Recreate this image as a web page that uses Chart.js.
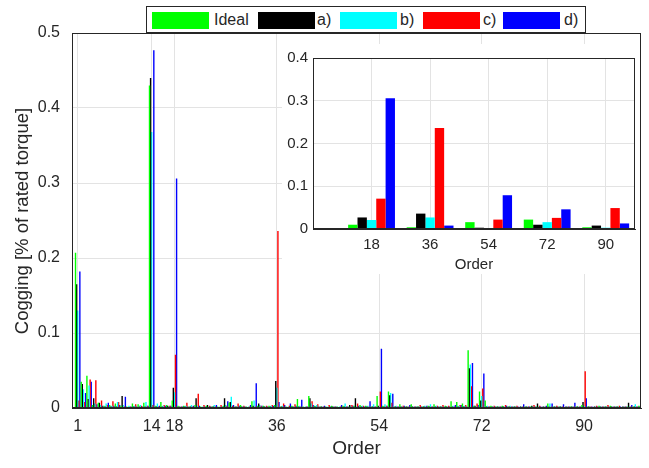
<!DOCTYPE html>
<html>
<head>
<meta charset="utf-8">
<script src="https://cdn.jsdelivr.net/npm/chart.js@4/dist/chart.umd.min.js"></script>
<style>
  html, body { margin: 0; padding: 0; background: #fff; }
  #wrap { position: relative; width: 649px; height: 468px; overflow: hidden; font-family: "Liberation Sans", Arial, sans-serif; }
  #main { position: absolute; left: 0; top: 0; }
  #inset { position: absolute; left: 282px; top: 44px; background: #fff; }
  #legend { position: absolute; left: 146px; top: 6px; width: 440px; height: 27px; border: 1px solid #262626; background: #fff; box-sizing: border-box; }
  .sw { position: absolute; top: 5px; width: 57px; height: 17px; }
  .lt { position: absolute; top: 3px; font-size: 16px; color: #262626; line-height: 20px; }
  #ytitle { position: absolute; left: 22px; top: 221px; width: 300px; margin-left: -150px; margin-top: -11px; height: 22px; line-height: 22px;
            text-align: center; font-size: 18.5px; color: #262626; transform: rotate(-90deg); white-space: nowrap; }
</style>
</head>
<body>
<div id="wrap">
  <canvas id="main" width="649" height="468"></canvas>
  <canvas id="inset" width="358" height="230"></canvas>
  <div id="legend"></div>
  <div id="ytitle"></div>
</div>
<script>
// ---------- data ----------
const seriesNames = ['Ideal', 'a)', 'b)', 'c)', 'd)'];
const seriesColors = ['#00ff00', '#000000', '#00ffff', '#ff0000', '#0000ff'];
const yTitle = 'Cogging [% of rated torque]';
const xTitle = 'Order';

const orders = [1,2,3,4,5,6,7,8,9,10,11,12,13,14,15,16,17,18,19,20,
  21,22,23,24,25,26,27,28,29,30,31,32,33,34,35,36,37,38,39,40,
  41,42,43,44,45,46,47,48,49,50,51,52,53,54,55,56,57,58,59,60,
  61,62,63,64,65,66,67,68,69,70,71,72,73,74,75,76,77,78,79,80,
  81,82,83,84,85,86,87,88,89,90,91,92,93,94,95,96,97,98,99,100];

const xTickValues = [1, 14, 18, 36, 54, 72, 90];
const yTickValues = [0, 0.1, 0.2, 0.3, 0.4, 0.5];

const ideal = [0.207,0.035,0.043,0.004,0.007,0.003,0.004,0.006,0.003,0.002,
  0.006,0.005,0.007,0.430,0.003,0.008,0.004,0.010,0.003,0.003,
  0.002,0.004,0.002,0.003,0.002,0.002,0.003,0.007,0.002,0.004,
  0.002,0.009,0.003,0.003,0.003,0.004,0.002,0.002,0.003,0.012,
  0.002,0.016,0.003,0.002,0.002,0.003,0.002,0.003,0.002,0.003,
  0.004,0.003,0.002,0.016,0.003,0.022,0.002,0.005,0.002,0.005,
  0.002,0.002,0.003,0.005,0.002,0.003,0.009,0.008,0.006,0.077,
  0.003,0.022,0.010,0.003,0.002,0.003,0.002,0.002,0.001,0.002,
  0.002,0.002,0.001,0.006,0.002,0.002,0.001,0.002,0.002,0.004,
  0.002,0.001,0.003,0.002,0.003,0.002,0.001,0.002,0.002,0.003];

const seriesA = [0.165,0.032,0.012,0.013,0.007,0.002,0.002,0.002,0.016,0.001,
  0.002,0.002,0.002,0.440,0.002,0.002,0.003,0.027,0.002,0.002,
  0.002,0.013,0.001,0.004,0.002,0.001,0.013,0.008,0.002,0.002,
  0.001,0.003,0.006,0.002,0.002,0.036,0.002,0.001,0.002,0.002,
  0.001,0.013,0.002,0.002,0.001,0.002,0.001,0.002,0.004,0.013,
  0.002,0.002,0.002,0.003,0.002,0.017,0.002,0.002,0.002,0.002,
  0.002,0.002,0.002,0.002,0.002,0.002,0.002,0.002,0.002,0.053,
  0.003,0.010,0.002,0.002,0.002,0.002,0.002,0.002,0.002,0.002,
  0.003,0.006,0.002,0.002,0.002,0.002,0.002,0.002,0.002,0.008,
  0.002,0.002,0.002,0.002,0.002,0.002,0.002,0.007,0.002,0.002];

const seriesB = [0.130,0.025,0.030,0.006,0.004,0.006,0.003,0.008,0.004,0.003,
  0.003,0.004,0.008,0.368,0.006,0.003,0.002,0.021,0.002,0.003,
  0.004,0.003,0.002,0.002,0.004,0.002,0.004,0.015,0.002,0.002,
  0.002,0.010,0.004,0.002,0.003,0.027,0.003,0.002,0.002,0.003,
  0.002,0.006,0.004,0.002,0.002,0.002,0.002,0.006,0.002,0.002,
  0.003,0.003,0.005,0.002,0.005,0.020,0.003,0.002,0.002,0.002,
  0.002,0.003,0.005,0.003,0.002,0.002,0.003,0.003,0.003,0.058,
  0.002,0.016,0.003,0.002,0.002,0.002,0.003,0.002,0.002,0.002,
  0.002,0.002,0.002,0.006,0.002,0.002,0.002,0.002,0.002,0.003,
  0.002,0.002,0.002,0.002,0.002,0.002,0.002,0.002,0.005,0.002];

const seriesC = [0.010,0.008,0.038,0.037,0.010,0.004,0.009,0.008,0.002,0.002,
  0.005,0.003,0.003,0.004,0.002,0.004,0.003,0.071,0.002,0.007,
  0.002,0.019,0.004,0.003,0.002,0.004,0.003,0.003,0.006,0.003,
  0.002,0.002,0.003,0.003,0.004,0.236,0.006,0.003,0.005,0.002,
  0.002,0.009,0.005,0.002,0.004,0.002,0.002,0.002,0.004,0.006,
  0.003,0.002,0.002,0.022,0.003,0.007,0.002,0.003,0.002,0.002,
  0.004,0.002,0.002,0.003,0.004,0.003,0.002,0.004,0.004,0.029,
  0.006,0.026,0.002,0.003,0.002,0.004,0.002,0.003,0.002,0.002,
  0.004,0.003,0.002,0.002,0.003,0.002,0.002,0.002,0.002,0.049,
  0.002,0.003,0.002,0.004,0.002,0.003,0.002,0.002,0.002,0.002];

const seriesD = [0.182,0.020,0.035,0.005,0.003,0.007,0.003,0.004,0.015,0.002,
  0.002,0.002,0.003,0.477,0.003,0.003,0.003,0.306,0.002,0.002,
  0.003,0.003,0.002,0.002,0.004,0.002,0.009,0.004,0.003,0.002,
  0.004,0.033,0.003,0.002,0.003,0.008,0.004,0.006,0.003,0.011,
  0.002,0.004,0.002,0.003,0.002,0.002,0.004,0.002,0.003,0.003,
  0.002,0.009,0.002,0.079,0.003,0.019,0.002,0.003,0.004,0.002,
  0.002,0.003,0.002,0.002,0.002,0.002,0.004,0.004,0.002,0.060,
  0.004,0.046,0.002,0.002,0.002,0.003,0.002,0.002,0.005,0.002,
  0.002,0.002,0.003,0.006,0.002,0.005,0.002,0.007,0.002,0.013,
  0.002,0.002,0.002,0.002,0.002,0.002,0.002,0.004,0.002,0.003];

// inset
const insetCategories = ['18', '36', '54', '72', '90'];
const insetPositions = [1, 2, 3, 4, 5];
const insetYTicks = [0, 0.1, 0.2, 0.3, 0.4];
const insetIdeal = [0.010, 0.004, 0.016, 0.022, 0.004];
const insetA     = [0.027, 0.036, 0.003, 0.010, 0.008];
const insetB     = [0.021, 0.027, 0.002, 0.016, 0.003];
const insetC     = [0.071, 0.236, 0.022, 0.026, 0.049];
const insetD     = [0.306, 0.008, 0.079, 0.046, 0.013];

// ---------- chart ----------
const TXT = '#262626';
const GRID = '#e3e3e3';
const FONT = '"Liberation Sans", Arial, sans-serif';

const frame = {
  id: 'frame',
  afterDraw(c) {
    const a = c.chartArea, ctx = c.ctx;
    ctx.save();
    ctx.strokeStyle = TXT;
    ctx.lineWidth = 1;
    ctx.strokeRect(Math.round(a.left) + 0.5, Math.round(a.top) + 0.5,
                   Math.round(a.right - a.left) - 1, Math.round(a.bottom - a.top) - 1);
    ctx.restore();
  }
};

function makeSets(xs, arrays, cat, bar) {
  return arrays.map((arr, k) => ({
    label: seriesNames[k],
    data: arr.map((v, i) => ({ x: xs[i], y: v })),
    backgroundColor: seriesColors[k],
    borderWidth: 0,
    categoryPercentage: cat,
    barPercentage: bar
  }));
}

new Chart(document.getElementById('main'), {
  type: 'bar',
  data: { datasets: makeSets(orders, [ideal, seriesA, seriesB, seriesC, seriesD], 0.95, 1.3) },
  options: {
    responsive: false, animation: false,
    layout: { padding: { top: 33, right: 8, left: 0, bottom: 0 } },
    plugins: { legend: { display: false }, tooltip: { enabled: false } },
    scales: {
      x: {
        type: 'linear', min: 0, max: 100, offset: false,
        afterBuildTicks: s => { s.ticks = xTickValues.map(v => ({ value: v })); },
        afterFit: s => { s.height = 60; },
        grid: { color: GRID, drawTicks: false, offset: false },
        border: { color: TXT },
        ticks: { color: TXT, font: { family: FONT, size: 16 }, padding: 9, maxRotation: 0, autoSkip: false },
        title: { display: true, text: xTitle, color: TXT, font: { family: FONT, size: 19 }, padding: { top: 0, bottom: 8 } }
      },
      y: {
        min: 0, max: 0.5,
        afterBuildTicks: s => { s.ticks = yTickValues.map(v => ({ value: v })); },
        afterFit: s => { s.width = 72; },
        grid: { color: GRID, drawTicks: false },
        border: { color: TXT },
        ticks: { color: TXT, font: { family: FONT, size: 16 }, padding: 12, autoSkip: false }
      }
    }
  },
  plugins: [frame]
});

new Chart(document.getElementById('inset'), {
  type: 'bar',
  data: { datasets: makeSets(insetPositions, [insetIdeal, insetA, insetB, insetC, insetD], 0.8, 1) },
  options: {
    responsive: false, animation: false,
    layout: { padding: { top: 12, right: 5, left: 0, bottom: 0 } },
    plugins: { legend: { display: false }, tooltip: { enabled: false } },
    scales: {
      x: {
        type: 'linear', min: 0, max: 5.5, offset: false,
        afterBuildTicks: s => { s.ticks = insetPositions.map(v => ({ value: v })); },
        afterFit: s => { s.height = 45; },
        grid: { color: GRID, drawTicks: false, offset: false },
        border: { color: TXT },
        ticks: { color: TXT, font: { family: FONT, size: 15 }, padding: 7, maxRotation: 0, autoSkip: false,
                 callback: v => insetCategories[insetPositions.indexOf(v)] },
        title: { display: true, text: xTitle, color: TXT, font: { family: FONT, size: 15 }, padding: { top: 0, bottom: 0 } }
      },
      y: {
        min: 0, max: 0.4,
        afterBuildTicks: s => { s.ticks = insetYTicks.map(v => ({ value: v })); },
        afterFit: s => { s.width = 31; },
        grid: { color: GRID, drawTicks: false },
        border: { color: TXT },
        ticks: { color: TXT, font: { family: FONT, size: 15 }, padding: 5, autoSkip: false }
      }
    }
  },
  plugins: [frame]
});

// y-axis title and legend as HTML text
document.getElementById('ytitle').textContent = yTitle;
const legendPos = [[5, 67], [111, 170], [193, 253], [276, 336], [356, 417]];
const leg = document.getElementById('legend');
seriesNames.forEach((n, k) => {
  const sw = document.createElement('div');
  sw.className = 'sw'; sw.style.left = legendPos[k][0] + 'px'; sw.style.background = seriesColors[k];
  const t = document.createElement('span');
  t.className = 'lt'; t.style.left = legendPos[k][1] + 'px'; t.textContent = n;
  leg.appendChild(sw); leg.appendChild(t);
});
</script>
</body>
</html>
